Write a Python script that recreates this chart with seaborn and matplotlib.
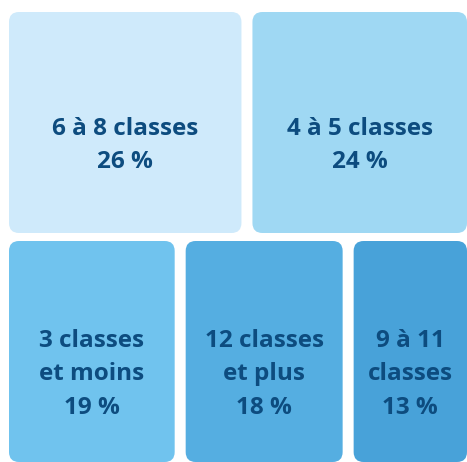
import matplotlib
matplotlib.use("Agg")
import matplotlib.pyplot as plt
from matplotlib.patches import FancyBboxPatch
import seaborn as sns

# Data
labels = ["6 à 8 classes", "4 à 5 classes", "3 classes\net moins", "12 classes\net plus", "9 à 11\nclasses"]
shares = [26, 24, 19, 18, 13]
rows = [[0, 1], [2, 3, 4]]
colors = ["#CFEAFB", "#9FD8F3", "#70C3EE", "#55AEE1", "#48A2D9"]

sns.set_theme(style="white")
plt.rcParams['font.family'] = ['Open Sans', 'DejaVu Sans']

W, H = 467, 462
fig = plt.figure(figsize=(W / 100, H / 100), dpi=100)
ax = fig.add_axes([0, 0, 1, 1])
ax.set_xlim(0, W)
ax.set_ylim(H, 0)
ax.axis("off")

left, top, right, bottom = 9, 12, 467, 462
hgap, vgap = 11, 8
total = sum(shares)
avail_h = (bottom - top) - vgap * (len(rows) - 1)

y = top
for row in rows:
    row_sum = sum(shares[i] for i in row)
    rh = avail_h * row_sum / total
    avail_w = (right - left) - hgap * (len(row) - 1)
    x = left
    for i in row:
        w = avail_w * shares[i] / row_sum
        ax.add_patch(FancyBboxPatch((x, y), w, rh,
                                    boxstyle="round,pad=0,rounding_size=10",
                                    facecolor=colors[i], edgecolor="none"))
        txt = f"{labels[i]}\n{shares[i]} %"
        ax.text(x + w / 2, y + rh / 2 + 23, txt,
                ha="center", va="center", fontsize=17.5, fontweight="bold",
                color="#0D4C7F", linespacing=1.52)
        x += w + hgap
    y += rh + vgap

fig.savefig("out.png", dpi=100)
